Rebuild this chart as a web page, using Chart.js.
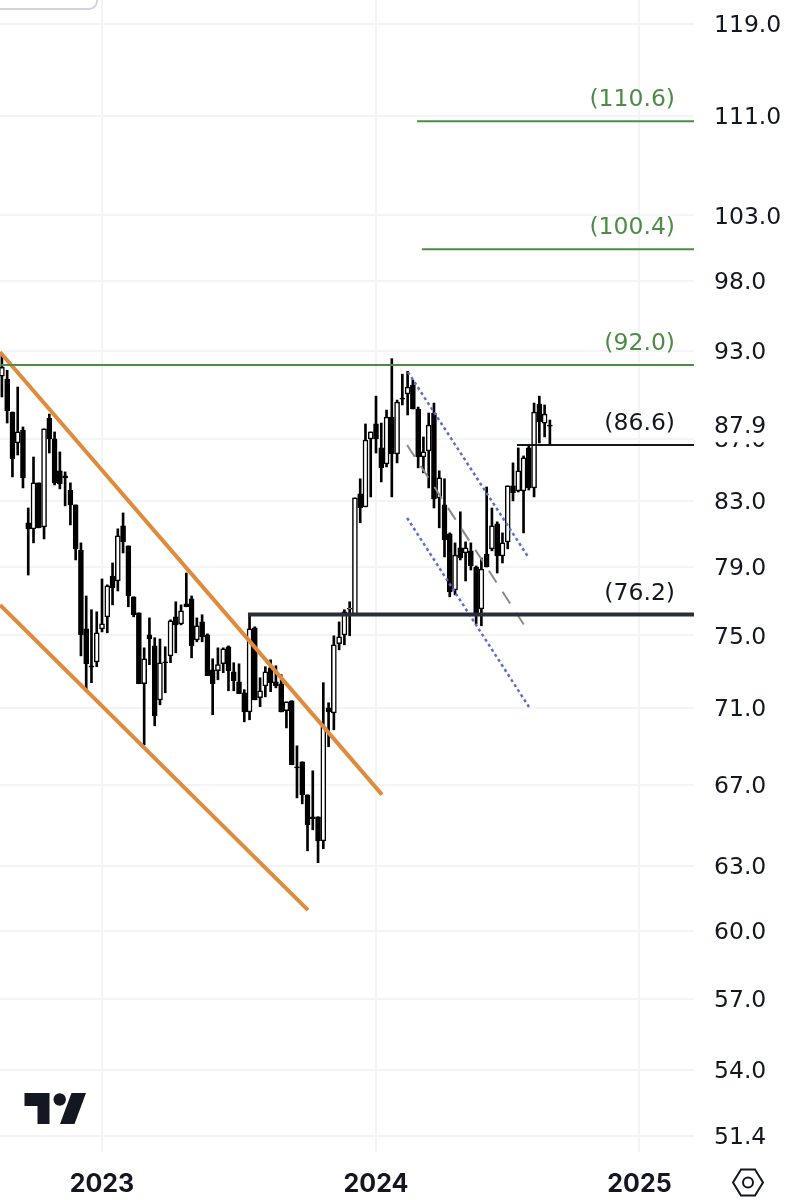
<!DOCTYPE html>
<html>
<head>
<meta charset="utf-8">
<style>
html, body { margin: 0; padding: 0; background: #fff; }
canvas { display: block; }
</style>
<script src="https://cdn.jsdelivr.net/npm/chart.js@4/dist/chart.umd.min.js"></script>
</head>
<body>
<canvas id="chart" width="800" height="1200"></canvas>
<script>
// weekly candles, one row per week: high, low, open, close
const highs = [92.77,91.63,88.79,90.48,87.79,82.58,85.82,84.16,87.66,88.65,87.46,86.15,84.86,84.16,82.77,80.43,77.27,76.47,76.35,78.27,77.92,79.22,81.29,82.27,80.25,77.22,76.29,74.3,76.0,74.87,74.8,74.36,75.89,76.93,76.75,78.62,77.27,76.0,76.18,75.09,73.69,74.3,74.3,74.41,73.47,73.41,71.99,76.18,75.49,72.64,73.25,73.63,73.3,72.81,71.33,71.39,69.0,68.17,66.49,67.71,65.4,72.37,71.28,74.98,75.77,76.47,76.93,83.21,84.42,87.99,87.46,89.86,88.05,88.92,92.44,89.59,91.36,91.56,90.96,89.12,87.13,88.72,89.39,84.93,84.42,81.04,80.43,82.34,80.49,80.43,79.04,79.52,83.9,82.58,81.72,81.04,83.97,85.44,86.41,85.89,86.54,89.39,89.86,89.26,88.25];
const lows = [89.8,88.05,84.54,85.95,83.84,78.5,80.43,81.35,80.67,86.08,84.03,83.78,82.71,81.53,79.4,73.85,71.88,72.37,73.25,75.2,75.15,76.75,77.56,79.82,76.64,76.06,72.31,69.05,73.36,70.05,71.17,71.82,73.47,74.02,75.6,76.64,73.74,74.64,74.64,72.75,70.64,72.53,72.92,71.93,71.93,71.77,70.26,70.37,71.44,71.07,71.6,71.88,72.09,70.79,69.94,68.02,66.34,66.04,63.74,64.76,63.17,63.84,68.95,69.84,74.19,74.47,74.98,76.18,81.66,82.65,83.27,86.08,84.22,85.18,83.27,85.44,89.26,88.59,88.99,85.12,84.8,83.84,82.58,81.35,79.58,77.22,77.33,79.4,78.15,78.8,75.66,75.55,78.98,79.95,78.62,79.22,80.07,83.02,83.58,81.04,83.71,83.27,86.74,87.13,86.6];
const opens = [91.23,91.03,88.79,86.74,87.59,81.66,81.29,84.16,81.41,88.38,87.0,84.93,84.61,83.71,82.77,80.0,75.37,73.3,73.52,75.37,76.06,78.44,78.15,81.47,80.25,77.22,76.29,72.31,75.03,74.41,71.44,73.52,73.85,76.06,75.66,76.81,77.1,74.75,75.77,75.03,73.08,73.03,73.41,74.36,72.97,72.42,71.82,70.79,75.43,71.55,72.2,73.19,72.42,72.31,70.85,71.39,67.91,68.17,66.49,65.4,65.4,64.22,71.01,70.74,74.53,75.03,76.5,76.18,83.46,82.65,87.0,87.99,86.41,85.37,88.45,86.02,89.73,90.0,90.62,88.99,85.82,86.21,88.72,83.21,82.77,80.98,77.62,80.13,79.82,79.95,78.98,76.52,79.76,80.07,81.59,79.64,80.49,83.97,83.65,83.65,86.41,83.84,89.32,88.05,87.92];
const closes = [91.83,88.86,85.7,87.46,84.48,81.29,84.16,81.35,87.66,87.0,84.16,84.1,84.48,82.77,80.07,75.03,73.41,73.22,75.15,75.66,77.86,77.74,80.86,80.49,77.27,76.18,72.31,73.69,74.8,70.58,73.47,73.47,75.83,75.6,76.41,76.64,74.41,75.55,74.92,72.75,72.31,73.36,74.25,73.03,72.48,71.77,70.79,75.37,71.44,71.93,72.97,72.37,72.2,70.79,71.33,68.02,67.86,66.49,65.0,65.3,64.22,70.0,70.79,74.47,74.92,76.35,76.55,83.21,82.58,86.93,87.46,87.0,85.12,88.45,86.02,89.46,89.66,90.48,88.99,85.82,86.15,87.92,83.14,84.48,80.61,77.5,79.7,79.52,80.13,79.04,76.12,78.86,78.98,81.47,79.64,80.43,83.97,83.52,84.93,85.76,83.84,88.79,88.12,88.65,87.85];

const priceTicks = [119, 111, 103, 98, 93, 87, 83, 79, 75, 71, 67, 63, 60, 57, 54, 51.4];
const yearTicks = [19, 71, 121];
const yearLabels = ["2023", "2024", "2025"];
const lastPrice = 87.9;

const greenLevels = [110.6, 100.4, 92.0];
const greenStarts = [78.8, 79.7, -0.36];
const blackLevels = [86.6, 76.2];
const blackStarts = [97.76, 46.7];

// channel lines as [week, price] pairs
const orangeUpper = [[-0.36, 92.9], [72.14, 66.5]];
const orangeLower = [[-0.36, 76.75], [58.1, 60.95]];
const blueUpper = [[77.07, 91.5], [100.04, 79.5]];
const blueLower = [[76.9, 81.96], [100.04, 71.05]];
const grayMiddle = [[76.9, 86.6], [99.1, 75.6]];

const xMin = -0.36;
const xMax = 131.35;
const FONT = "'DejaVu Sans', sans-serif";
const YEAR_FONT = "Inter, 'Noto Sans', sans-serif";

function trendLine(points, color, width, dash) {
    return {
        type: 'line',
        data: points.map(p => ({ x: p[0], y: p[1] })),
        borderColor: color,
        borderWidth: width,
        borderDash: dash || [],
        pointRadius: 0,
        order: 0
    };
}

function levelLine(value, start, color, width) {
    return trendLine([[start, value], [xMax, value]], color, width);
}

const isUp = opens.map((o, i) => closes[i] >= o);

const wicks = {
    type: 'bar',
    data: highs.map((h, i) => ({ x: i, y: [lows[i], h] })),
    backgroundColor: '#000',
    barThickness: 2,
    grouped: false,
    order: 2
};

const bodies = {
    type: 'bar',
    data: opens.map((o, i) => ({ x: i, y: [o, closes[i]] })),
    backgroundColor: isUp.map(u => u ? '#fff' : '#000'),
    borderColor: '#000',
    borderWidth: 1.5,
    borderSkipped: false,
    barThickness: 5,
    grouped: false,
    order: 1
};

// texts and TradingView marks that sit over the chart
const overlay = {
    id: 'overlay',
    afterDraw(chart) {
        const ctx = chart.ctx;
        const y = chart.scales.y;
        ctx.save();

        ctx.font = "23.5px " + FONT;
        ctx.textAlign = 'right';
        ctx.textBaseline = 'middle';
        ctx.fillStyle = '#4c8c47';
        greenLevels.forEach(v => ctx.fillText('(' + v.toFixed(1) + ')', 675, y.getPixelForValue(v) - 21));
        ctx.fillStyle = '#131722';
        blackLevels.forEach(v => ctx.fillText('(' + v.toFixed(1) + ')', 675, y.getPixelForValue(v) - 21));

        // last price label hides most of the 87.0 tick
        const py = y.getPixelForValue(lastPrice) + 2;
        ctx.fillStyle = '#fff';
        ctx.fillRect(700, py - 15, 100, 30);
        ctx.fillStyle = '#131722';
        ctx.textAlign = 'left';
        ctx.fillText(lastPrice.toFixed(1), 714, py);

        // button edge at the top
        ctx.strokeStyle = '#d1d4dc';
        ctx.lineWidth = 2;
        ctx.beginPath();
        ctx.roundRect(-10, -20, 107, 29, 8);
        ctx.stroke();

        // logo
        ctx.fillStyle = '#131722';
        ctx.beginPath();
        ctx.moveTo(24.5, 1093);
        ctx.lineTo(49.5, 1093);
        ctx.lineTo(49.5, 1124);
        ctx.lineTo(37.5, 1124);
        ctx.lineTo(37.5, 1106);
        ctx.lineTo(24.5, 1106);
        ctx.closePath();
        ctx.fill();
        ctx.beginPath();
        ctx.arc(59.7, 1099.5, 6.2, 0, Math.PI * 2);
        ctx.fill();
        ctx.beginPath();
        ctx.moveTo(71.5, 1093);
        ctx.lineTo(86, 1093);
        ctx.lineTo(74.5, 1124);
        ctx.lineTo(60, 1124);
        ctx.closePath();
        ctx.fill();

        // settings hexagon
        ctx.strokeStyle = '#131722';
        ctx.lineWidth = 2;
        ctx.beginPath();
        ctx.moveTo(733, 1182.5);
        ctx.lineTo(741, 1169.5);
        ctx.lineTo(755, 1169.5);
        ctx.lineTo(763, 1182.5);
        ctx.lineTo(755, 1195.5);
        ctx.lineTo(741, 1195.5);
        ctx.closePath();
        ctx.stroke();
        ctx.beginPath();
        ctx.arc(748, 1182.5, 5, 0, Math.PI * 2);
        ctx.stroke();
        ctx.restore();
    }
};

new Chart(document.getElementById('chart'), {
    type: 'bar',
    data: {
        datasets: [
            levelLine(greenLevels[0], greenStarts[0], '#4c8c47', 2),
            levelLine(greenLevels[1], greenStarts[1], '#4c8c47', 2),
            levelLine(greenLevels[2], greenStarts[2], '#4c8c47', 2),
            levelLine(blackLevels[0], blackStarts[0], '#131722', 2),
            levelLine(blackLevels[1], blackStarts[1], '#2a2e39', 4),
            trendLine(orangeUpper, '#e08a3c', 4),
            trendLine(orangeLower, '#e08a3c', 4),
            trendLine(blueUpper, '#5b6fd0', 2.5, [3, 3]),
            trendLine(blueLower, '#5b6fd0', 2.5, [3, 3]),
            trendLine(grayMiddle, '#8a8a8a', 2, [14, 11]),
            bodies,
            wicks
        ]
    },
    options: {
        responsive: false,
        animation: false,
        devicePixelRatio: 1,
        layout: { padding: 0 },
        plugins: { legend: { display: false }, tooltip: { enabled: false } },
        scales: {
            x: {
                type: 'linear',
                min: xMin,
                max: xMax,
                offset: false,
                grid: { color: '#f3f4f6', lineWidth: 2, drawTicks: false, offset: false },
                border: { display: false },
                ticks: {
                    autoSkip: false,
                    maxRotation: 0,
                    padding: 17,
                    color: '#131722',
                    font: { family: YEAR_FONT, size: 25, weight: 'bold' },
                    callback: v => yearLabels[yearTicks.indexOf(v)]
                },
                afterBuildTicks: axis => { axis.ticks = yearTicks.map(v => ({ value: v })); },
                afterFit: axis => {
                    axis.height = 48;
                    axis.paddingLeft = 0;
                    axis.paddingRight = 0;
                }
            },
            y: {
                type: 'logarithmic',
                position: 'right',
                min: 50.77,
                max: 121.2,
                grid: { color: '#f3f4f6', lineWidth: 2, drawTicks: false },
                border: { display: false },
                ticks: {
                    autoSkip: false,
                    padding: 20,
                    labelOffset: 2,
                    crossAlign: 'near',
                    color: '#131722',
                    font: { family: FONT, size: 23.5 },
                    callback: v => Number(v).toFixed(1)
                },
                afterBuildTicks: axis => { axis.ticks = priceTicks.map(v => ({ value: v })); },
                afterFit: axis => {
                    axis.width = 106;
                    axis.paddingTop = 0;
                    axis.paddingBottom = 0;
                }
            }
        }
    },
    plugins: [overlay]
});
</script>
</body>
</html>
